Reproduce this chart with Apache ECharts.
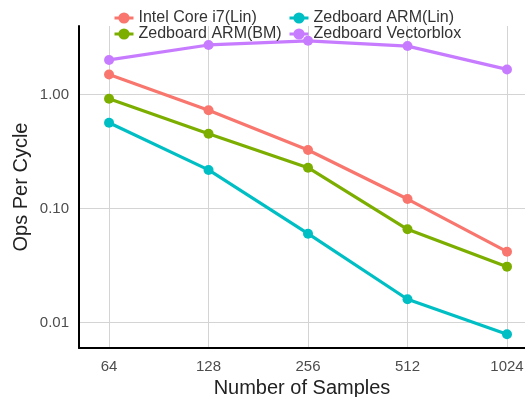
<!DOCTYPE html>
<html>
<head>
<meta charset="utf-8">
<script src="https://cdn.jsdelivr.net/npm/echarts@6/dist/echarts.min.js"></script>
<style>
  html, body { margin: 0; padding: 0; background: #fff; }
  #chart { width: 525px; height: 397px; }
</style>
</head>
<body>
<div id="chart"></div>
<script>
// FFT throughput (operations per cycle) against sample count
const samples = ['64', '128', '256', '512', '1024'];
const intelCoreI7Lin = [1.50, 0.727, 0.326, 0.121, 0.0418];
const zedboardArmBM = [0.919, 0.453, 0.228, 0.0657, 0.0309];
const zedboardArmLin = [0.566, 0.218, 0.0601, 0.0160, 0.00788];
const zedboardVectorblox = [2.01, 2.72, 2.96, 2.66, 1.66];
const yTickValues = [0.01, 0.1, 1];

const FONT = '"Liberation Sans", Arial, sans-serif';
const colors = {
  'Intel Core i7(Lin)': '#F8766D',
  'Zedboard ARM(BM)': '#7CAE00',
  'Zedboard ARM(Lin)': '#00BFC4',
  'Zedboard Vectorblox': '#C77CFF'
};

function makeSeries(name, values) {
  return {
    name: name,
    type: 'line',
    data: values.map((v, i) => [i, v]),
    symbol: 'circle',
    symbolSize: 10,
    lineStyle: { width: 3.2, color: colors[name] },
    itemStyle: { color: colors[name] },
    emphasis: { disabled: true },
    animation: false
  };
}

const legendCommon = {
  orient: 'vertical',
  top: 10,
  itemWidth: 19,
  itemHeight: 14,
  itemGap: 0,
  padding: 0,
  lineStyle: { width: 3 },
  textStyle: { fontFamily: FONT, fontSize: 16, color: '#333' },
  selectedMode: false
};

const chart = echarts.init(document.getElementById('chart'), null, { renderer: 'canvas' });
chart.setOption({
  backgroundColor: '#fff',
  animation: false,
  legend: [
    Object.assign({}, legendCommon, { left: 113, data: ['Intel Core i7(Lin)', 'Zedboard ARM(BM)'] }),
    Object.assign({}, legendCommon, { left: 288, data: ['Zedboard ARM(Lin)', 'Zedboard Vectorblox'] })
  ],
  grid: { left: 79, right: 0, top: 26, bottom: 49, containLabel: false, outerBoundsMode: 'none' },
  xAxis: {
    type: 'value',
    min: -0.302,
    max: 4.181,
    name: 'Number of Samples',
    nameLocation: 'middle',
    nameGap: 30,
    nameMoveOverlap: false,
    nameTextStyle: { fontFamily: FONT, fontSize: 20, color: '#222' },
    axisLine: { show: true, onZero: false, lineStyle: { color: '#000', width: 2 } },
    axisTick: { show: false, customValues: [0, 1, 2, 3, 4] },
    axisLabel: {
      customValues: [0, 1, 2, 3, 4],
      formatter: v => samples[Math.round(v)],
      fontFamily: FONT, fontSize: 15, color: '#4d4d4d', margin: 11
    },
    splitLine: { show: true, lineStyle: { color: '#d4d4d4', width: 1 } }
  },
  yAxis: {
    type: 'log',
    logBase: 10,
    min: 0.005972,
    max: 3.99,
    name: 'Ops Per Cycle',
    nameLocation: 'middle',
    nameGap: 48,
    nameMoveOverlap: false,
    nameTextStyle: { fontFamily: FONT, fontSize: 20, color: '#222' },
    axisLine: { show: true, onZero: false, lineStyle: { color: '#000', width: 2 } },
    axisTick: { show: false },
    axisLabel: {
      showMinLabel: false,
      showMaxLabel: false,
      formatter: v => (yTickValues.some(t => Math.abs(t - v) / t < 1e-6) ? v.toFixed(2) : ''),
      fontFamily: FONT, fontSize: 15, color: '#4d4d4d', margin: 10
    },
    splitLine: { show: true, showMinLine: false, showMaxLine: false, lineStyle: { color: '#d4d4d4', width: 1 } }
  },
  series: [
    makeSeries('Intel Core i7(Lin)', intelCoreI7Lin),
    makeSeries('Zedboard ARM(BM)', zedboardArmBM),
    makeSeries('Zedboard ARM(Lin)', zedboardArmLin),
    makeSeries('Zedboard Vectorblox', zedboardVectorblox)
  ]
});
</script>
</body>
</html>
